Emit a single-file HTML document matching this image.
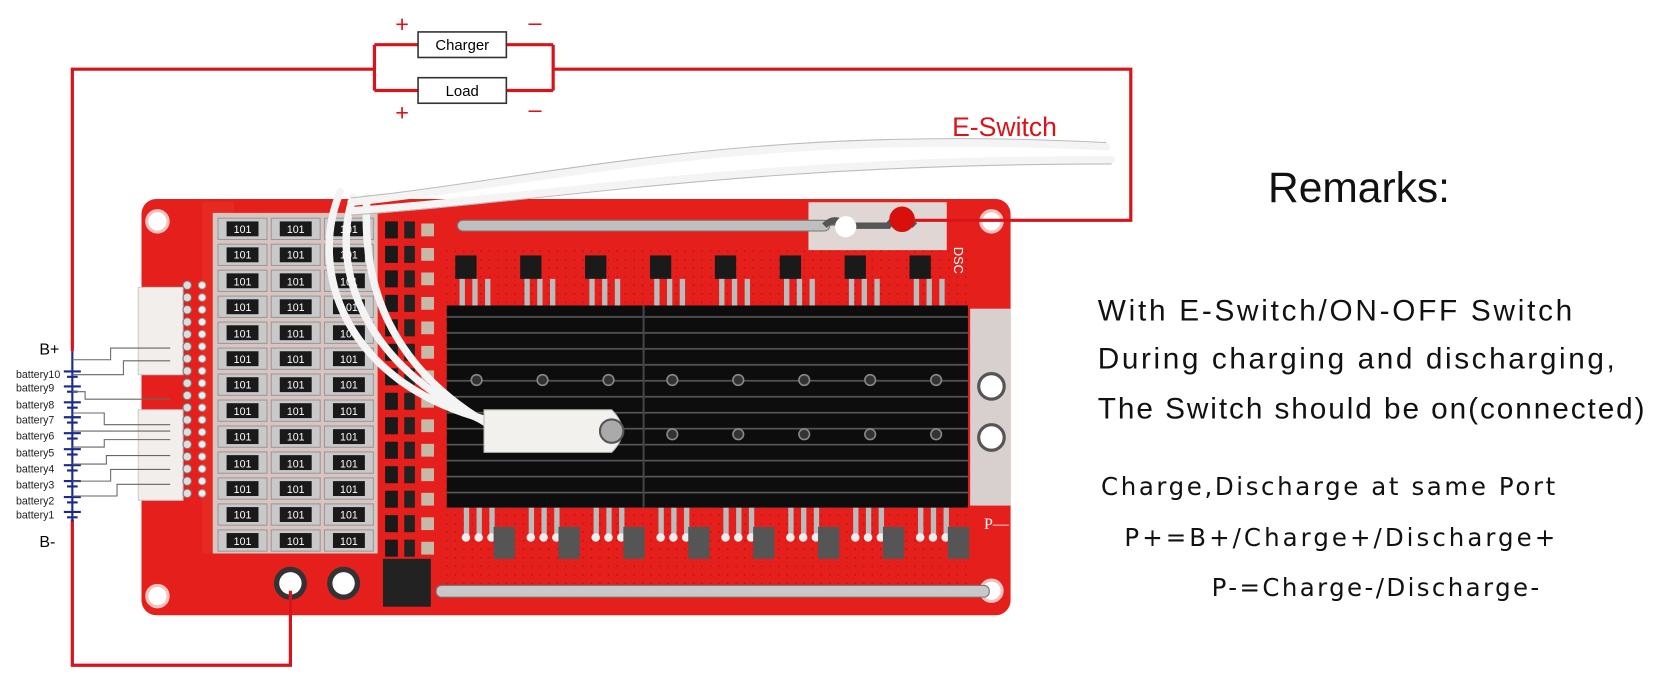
<!DOCTYPE html>
<html><head><meta charset="utf-8"><style>
html,body{margin:0;padding:0;background:#fff;}
svg{display:block}
.t{font-family:"Liberation Sans",sans-serif}
</style></head><body>
<svg id="s" width="1668" height="694" viewBox="0 0 1568 652" preserveAspectRatio="none" xmlns="http://www.w3.org/2000/svg">
<defs>
<pattern id="fins" x="0" y="0" width="10" height="15" patternUnits="userSpaceOnUse">
<rect width="10" height="15" fill="#0d0d0d"/><rect y="12" width="10" height="1.5" fill="#5a5a5a"/>
</pattern>
<pattern id="dots" width="8" height="8" patternUnits="userSpaceOnUse">
<rect width="8" height="8" fill="#e5201c"/><circle cx="4" cy="4" r="0.8" fill="#b3120f"/>
</pattern>
</defs>
<rect x="133" y="187" width="817" height="391" rx="14" fill="#e5201c"/>
<rect x="190" y="190" width="30" height="330" fill="#e62a22"/>
<rect x="200" y="200" width="155" height="320" fill="#d9c4c0"/>
<rect x="415" y="232" width="500" height="330" fill="url(#dots)"/>
<rect x="760" y="190" width="130" height="45" fill="#e0d6d4"/>
<rect x="912" y="290" width="38" height="185" fill="#d8d0cf"/>
<circle cx="932" cy="363" r="12" fill="#fff" stroke="#555" stroke-width="3"/>
<circle cx="932" cy="411" r="12" fill="#fff" stroke="#555" stroke-width="3"/>
<g fill="#fff" stroke="#f3c3c0" stroke-width="3">
<circle cx="148" cy="208" r="10"/><circle cx="932" cy="208" r="10"/>
<circle cx="148" cy="560" r="10"/><circle cx="932" cy="555" r="10"/>
</g>
<g id="res"></g>
<g id="ics"></g>
<rect x="130" y="270" width="42" height="82" fill="#f2eeec" stroke="#ccc"/>
<rect x="130" y="385" width="42" height="85" fill="#f2eeec" stroke="#ccc"/>
<g id="pins"></g>
<rect x="420" y="287" width="490" height="190" fill="url(#fins)"/>
<line x1="605" y1="287" x2="605" y2="477" stroke="#444" stroke-width="2"/>
<g fill="#333" stroke="#888" stroke-width="1.5">
<circle cx="448" cy="357" r="5"/><circle cx="510" cy="357" r="5"/><circle cx="572" cy="357" r="5"/><circle cx="632" cy="357" r="5"/><circle cx="694" cy="357" r="5"/><circle cx="756" cy="357" r="5"/><circle cx="818" cy="357" r="5"/><circle cx="880" cy="357" r="5"/>
<circle cx="632" cy="408" r="5"/><circle cx="694" cy="408" r="5"/><circle cx="756" cy="408" r="5"/><circle cx="818" cy="408" r="5"/><circle cx="880" cy="408" r="5"/>
</g>
<g id="fets"></g>
<rect x="430" y="207" width="350" height="10" rx="5" fill="#bfbfbf" stroke="#777"/>
<path d="M775 212 q10 -10 20 0 l40 0 q10 -15 25 0" fill="#666" stroke="#555" stroke-width="6"/>
<circle cx="795" cy="213" r="10" fill="#fff"/>
<circle cx="848" cy="206" r="12" fill="#d8100c"/>
<rect x="410" y="550" width="520" height="11" rx="5" fill="#c8c8c8" stroke="#777"/>
<rect x="360" y="525" width="45" height="45" fill="#222"/>
<circle cx="273" cy="548" r="13" fill="#fff" stroke="#333" stroke-width="5"/>
<circle cx="323" cy="548" r="13" fill="#fff" stroke="#333" stroke-width="5"/>
<text class="t" x="897" y="232" font-size="12" fill="#fff" transform="rotate(90 897 232)">DSC</text>
<text x="925" y="497" font-family="Liberation Serif,serif" font-size="15" fill="#fff">P—</text>
<g fill="none" stroke="#f4f4f4" stroke-width="7" stroke-linecap="round">
<path d="M330 190 C 520 170, 700 120, 1040 138"/>
<path d="M330 198 C 520 185, 700 150, 1045 150"/>
<path d="M320 180 C 290 250, 320 360, 460 395"/>
<path d="M332 185 C 310 250, 340 350, 470 402"/>
<path d="M345 185 C 340 260, 360 350, 480 410"/>
</g>
<g fill="none" stroke="#bbb" stroke-width="1">
<path d="M330 186 C 520 166, 700 116, 1040 134"/>
<path d="M330 202 C 520 189, 700 154, 1045 154"/>
</g>
<path d="M455 385 L575 385 Q595 405 575 425 L455 425 Z" fill="#f3f1ee" stroke="#bbb"/>
<circle cx="575" cy="405" r="11" fill="#aaa" stroke="#555" stroke-width="2"/>
<g fill="none" stroke="#d8141a" stroke-width="3">
<path d="M68 330 L68 65 L352 65"/>
<path d="M352 42 L352 85 M352 42 L393 42 M352 85 L393 85 M476 42 L520 42 M476 85 L520 85 M520 42 L520 85"/>
<path d="M520 65 L1063 65 L1063 207 L858 207"/>
<path d="M68 488 L68 625 L273 625 L273 555"/>
</g>
<rect x="393" y="30" width="83" height="24" fill="#fff" stroke="#333" stroke-width="1.5"/>
<rect x="393" y="73" width="83" height="24" fill="#fff" stroke="#333" stroke-width="1.5"/>
<text class="t" x="434.5" y="47" font-size="14" text-anchor="middle">Charger</text>
<text class="t" x="434.5" y="90" font-size="14" text-anchor="middle">Load</text>
<g class="t" font-size="22" fill="#d8141a" text-anchor="middle">
<text x="378" y="30">+</text><text x="503" y="28">–</text>
<text x="378" y="113">+</text><text x="503" y="110">–</text>
</g>
<text class="t" x="895" y="128" font-size="25" fill="#d8141a">E-Switch</text>
<g id="bat"></g>
<g class="t" font-size="10" fill="#222">
<text x="15" y="355">battery10</text><text x="15" y="368">battery9</text>
<text x="15" y="384">battery8</text><text x="15" y="398">battery7</text>
<text x="15" y="413">battery6</text><text x="15" y="429">battery5</text>
<text x="15" y="444">battery4</text><text x="15" y="459">battery3</text>
<text x="15" y="474">battery2</text><text x="15" y="487">battery1</text>
</g>
<text class="t" x="37" y="333" font-size="15">B+</text>
<text class="t" x="37" y="514" font-size="15">B-</text>
<g fill="none" stroke="#666" stroke-width="1">
<path d="M68 338 L104 338 L104 327 L160 327"/><path d="M68 352 L116 352 L116 339 L160 339"/>
<path d="M68 368 L80 368 L80 375 L160 375"/><path d="M68 388 L98 388 L98 399 L160 399"/>
<path d="M68 405 L160 405"/><path d="M68 420 L98 420 L98 413 L160 413"/>
<path d="M68 436 L100 436 L100 428 L160 428"/><path d="M68 452 L104 452 L104 441 L160 441"/>
<path d="M68 466 L110 466 L110 455 L160 455"/>
</g>
<text class="t" x="1192" y="190" font-size="40" fill="#111">Remarks:</text>
<g class="t" font-size="28" fill="#111">
<text x="1032" y="301" textLength="446">With E-Switch/ON-OFF Switch</text>
<text x="1032" y="346" textLength="486">During charging and discharging,</text>
<text x="1032" y="393" textLength="514">The Switch should be on(connected)</text>
</g>
<g font-family="DejaVu Sans,sans-serif" font-size="23" fill="#111">
<text x="1035" y="465" textLength="427">Charge,Discharge at same Port</text>
<text x="1057" y="513" textLength="405">P+=B+/Charge+/Discharge+</text>
<text x="1139" y="560" textLength="308">P-=Charge-/Discharge-</text>
</g>
<g class="t" font-size="10" fill="#fff" text-anchor="middle">
<text x="228" y="219">101</text><text x="278" y="219">101</text><text x="328" y="219">101</text>
<text x="228" y="243">101</text><text x="278" y="243">101</text><text x="328" y="243">101</text>
<text x="228" y="268">101</text><text x="278" y="268">101</text><text x="328" y="268">101</text>
<text x="228" y="292">101</text><text x="278" y="292">101</text><text x="328" y="292">101</text>
<text x="228" y="317">101</text><text x="278" y="317">101</text><text x="328" y="317">101</text>
<text x="228" y="341">101</text><text x="278" y="341">101</text><text x="328" y="341">101</text>
<text x="228" y="365">101</text><text x="278" y="365">101</text><text x="328" y="365">101</text>
<text x="228" y="390">101</text><text x="278" y="390">101</text><text x="328" y="390">101</text>
<text x="228" y="414">101</text><text x="278" y="414">101</text><text x="328" y="414">101</text>
<text x="228" y="439">101</text><text x="278" y="439">101</text><text x="328" y="439">101</text>
<text x="228" y="463">101</text><text x="278" y="463">101</text><text x="328" y="463">101</text>
<text x="228" y="487">101</text><text x="278" y="487">101</text><text x="328" y="487">101</text>
<text x="228" y="512">101</text><text x="278" y="512">101</text><text x="328" y="512">101</text>
</g>
</svg>
<script>
var NS="http://www.w3.org/2000/svg";
function el(p,t,a){var e=document.createElementNS(NS,t);for(var k in a)e.setAttribute(k,a[k]);p.appendChild(e);return e;}
var res=document.getElementById("res");
for(var i=0;i<13;i++){var y=205+i*24.4;for(var c=0;c<3;c++){var x=205+c*50;
el(res,"rect",{x:x,y:y,width:46,height:20,fill:"#c9c9c9",stroke:"#999"});
el(res,"rect",{x:x+8,y:y+3,width:30,height:14,fill:"#1a1a1a"});}}
var ics=document.getElementById("ics");
for(var i=0;i<14;i++){var y=208+i*23;el(ics,"rect",{x:362,y:y,width:12,height:16,fill:"#1a1a1a"});
el(ics,"rect",{x:380,y:y,width:10,height:16,fill:"#222"});el(ics,"rect",{x:396,y:y+2,width:12,height:12,fill:"#c8b8a8"});}
var pins=document.getElementById("pins");
for(var i=0;i<18;i++){var y=268+i*11.5;el(pins,"circle",{cx:176,cy:y,r:4,fill:"#ddd",stroke:"#777"});
el(pins,"circle",{cx:190,cy:y,r:3.5,fill:"#eee",stroke:"#999"});}
var f=document.getElementById("fets");
for(var i=0;i<8;i++){var x=428+i*61;
el(f,"rect",{x:x,y:240,width:20,height:22,fill:"#1a1a1a"});
for(var j=0;j<3;j++){el(f,"rect",{x:x+4+j*12,y:262,width:5,height:25,fill:"#bbb"});
el(f,"rect",{x:x+8+j*12,y:477,width:5,height:28,fill:"#bbb"});
el(f,"circle",{cx:x+10+j*12,cy:505,r:4,fill:"#eee"});}
el(f,"rect",{x:x+36,y:495,width:20,height:30,fill:"#555"});}
var b=document.getElementById("bat");
el(b,"line",{x1:68,y1:330,x2:68,y2:490,stroke:"#1a2a8a","stroke-width":2});
var ys=[352,366,381,395,410,425,440,455,470,484];
ys.forEach(function(y){el(b,"line",{x1:60,y1:y-3,x2:76,y2:y-3,stroke:"#1a2a8a","stroke-width":2});
el(b,"line",{x1:63,y1:y+2,x2:73,y2:y+2,stroke:"#1a2a8a","stroke-width":2});});
</script>
</body></html>
